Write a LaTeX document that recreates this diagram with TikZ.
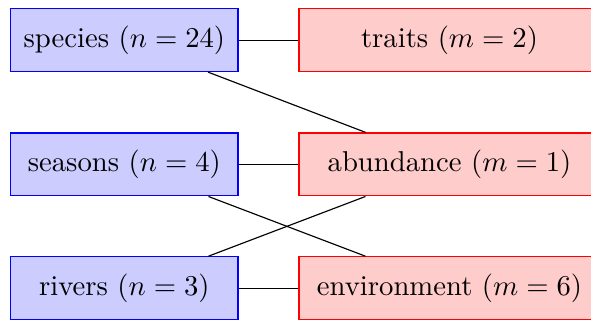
\documentclass[tikz,border=0pt]{standalone}
\begin{document}
\begin{tikzpicture}[x=0.3484pt,y=-0.3484pt,
  leftbox/.style={draw=blue,fill=blue!20,minimum width=79.2pt,minimum height=21.9pt,inner sep=2pt},
  rightbox/.style={draw=red,fill=red!20,minimum width=104.9pt,minimum height=21.9pt,inner sep=2pt},
  link/.style={draw=black}]
\useasboundingbox (0,0) rectangle (591,320);
\node[leftbox] (sp) at (124.35,40.1) {species $(n=24)$};
\node[leftbox] (se) at (124.35,164.5) {seasons $(n=4)$};
\node[leftbox] (ri) at (124.35,288.2) {rivers $(n=3)$};
\node[rightbox] (tr) at (449.5,40.1) {traits $(m=2)$};
\node[rightbox] (ab) at (449.5,164.5) {abundance $(m=1)$};
\node[rightbox] (en) at (449.5,288.2) {environment $(m=6)$};
\draw[link] (sp) -- (tr);
\draw[link] (sp) -- (ab);
\draw[link] (se) -- (ab);
\draw[link] (se) -- (en);
\draw[link] (ri) -- (ab);
\draw[link] (ri) -- (en);
\end{tikzpicture}
\end{document}
